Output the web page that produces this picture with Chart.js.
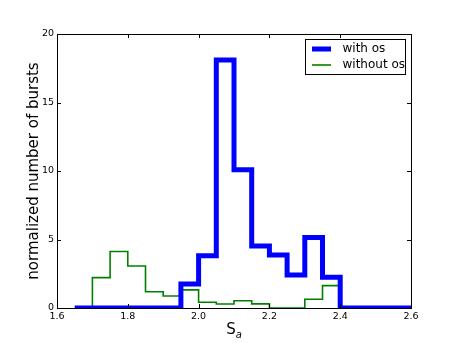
<!DOCTYPE html>
<html>
<head>
<meta charset="utf-8">
<script src="https://cdn.jsdelivr.net/npm/chart.js@4/dist/chart.umd.min.js"></script>
<style>
  html, body { margin: 0; padding: 0; background: #fff; }
  #wrap { width: 457px; height: 343px; }
</style>
</head>
<body>
<div id="wrap"><canvas id="chart"></canvas></div>
<script>
// histogram bins (left edges, width 0.05)
const binEdges = [1.65, 1.70, 1.75, 1.80, 1.85, 1.90, 1.95, 2.00, 2.05, 2.10, 2.15, 2.20, 2.25, 2.30, 2.35];
const binWidth = 0.05;
const withOs = [0, 0, 0, 0, 0, 0, 1.75, 3.82, 18.1, 10.1, 4.53, 3.87, 2.41, 5.14, 2.24];
const withoutOs = [null, 2.22, 4.12, 3.07, 1.19, 0.88, 1.32, 0.42, 0.29, 0.53, 0.30, 0, 0, 0.64, 1.63];
const xTicks = [1.6, 1.8, 2.0, 2.2, 2.4, 2.6];
const yTicks = [0, 5, 10, 15, 20];
const xMin = 1.6, xMax = 2.6;

const FONT = '"DejaVu Sans", sans-serif';

// turn bin values into step points (value applies to the bin to the right of its edge)
function stepPoints(values, tailTo) {
  const pts = [];
  let last = null;
  values.forEach((v, i) => {
    if (v === null) return;
    if (pts.length === 0) pts.push({ x: binEdges[i], y: 0 });
    pts.push({ x: binEdges[i], y: v });
    last = binEdges[i] + binWidth;
  });
  pts.push({ x: last, y: 0 });
  if (tailTo !== undefined) pts.push({ x: tailTo, y: 0 });
  return pts;
}

// frame, inward ticks, axis title and legend drawn like matplotlib
const decorations = {
  id: 'decorations',
  afterDraw(chart) {
    const ctx = chart.ctx;
    const a = chart.chartArea;
    const xs = chart.scales.x, ys = chart.scales.y;
    ctx.save();
    ctx.strokeStyle = '#000';
    ctx.lineWidth = 1;
    ctx.strokeRect(Math.round(a.left) + 0.5, Math.round(a.top) + 0.5,
      Math.round(a.right - a.left), Math.round(a.bottom - a.top));
    ctx.beginPath();
    xTicks.forEach(t => {
      const px = Math.round(xs.getPixelForValue(t)) + 0.5;
      ctx.moveTo(px, a.bottom); ctx.lineTo(px, a.bottom - 4);
      ctx.moveTo(px, a.top); ctx.lineTo(px, a.top + 4);
    });
    yTicks.forEach(t => {
      const py = Math.round(ys.getPixelForValue(t)) + 0.5;
      ctx.moveTo(a.left, py); ctx.lineTo(a.left + 4, py);
      ctx.moveTo(a.right, py); ctx.lineTo(a.right - 4, py);
    });
    ctx.stroke();

    // y title
    ctx.fillStyle = '#000';
    ctx.font = '15px ' + FONT;
    ctx.textAlign = 'center';
    ctx.textBaseline = 'middle';
    ctx.save();
    ctx.translate(34, (a.top + a.bottom) / 2);
    ctx.rotate(-Math.PI / 2);
    ctx.fillText('normalized number of bursts', 0, 0);
    ctx.restore();

    // x title: S with subscript a
    const cx = (a.left + a.right) / 2;
    ctx.textBaseline = 'alphabetic';
    ctx.textAlign = 'left';
    ctx.font = '15px ' + FONT;
    const sw = ctx.measureText('S').width;
    ctx.font = 'italic 10px ' + FONT;
    const aw = ctx.measureText('a').width;
    const x0 = cx - (sw + aw) / 2;
    ctx.font = '15px ' + FONT;
    ctx.fillText('S', x0, 334);
    ctx.font = 'italic 10px ' + FONT;
    ctx.fillText('a', x0 + sw, 338);

    // legend
    const lx = 305.5, ly = 39.5, lw = 100, lh = 35;
    ctx.fillStyle = '#fff';
    ctx.fillRect(lx, ly, lw, lh);
    ctx.strokeStyle = '#000';
    ctx.lineWidth = 1;
    ctx.strokeRect(lx, ly, lw, lh);
    chart.data.datasets.forEach((ds, i) => {
      const y = 49 + i * 16;
      ctx.strokeStyle = ds.borderColor;
      ctx.lineWidth = ds.borderWidth;
      ctx.beginPath();
      ctx.moveTo(312, y); ctx.lineTo(331, y);
      ctx.stroke();
      ctx.fillStyle = '#000';
      ctx.font = '12px ' + FONT;
      ctx.textBaseline = 'middle';
      ctx.fillText(ds.label, 342.5, y);
    });
    ctx.restore();
  }
};

new Chart(document.getElementById('chart'), {
  type: 'line',
  data: {
    datasets: [
      {
        label: 'with os',
        data: stepPoints(withOs, xMax),
        borderColor: '#0000ff',
        borderWidth: 5,
        stepped: 'before',
        pointRadius: 0,
        fill: false,
        borderJoinStyle: 'miter'
      },
      {
        label: 'without os',
        data: stepPoints(withoutOs),
        borderColor: '#008000',
        borderWidth: 1.6,
        stepped: 'before',
        pointRadius: 0,
        fill: false,
        borderJoinStyle: 'miter'
      }
    ]
  },
  options: {
    responsive: true,
    maintainAspectRatio: false,
    animation: false,
    events: [],
    layout: { padding: { top: 34, right: 46, left: 0, bottom: 0 } },
    plugins: {
      legend: { display: false },
      tooltip: { enabled: false }
    },
    scales: {
      x: {
        type: 'linear',
        min: xMin,
        max: xMax,
        afterFit: s => { s.height = 35; },
        afterBuildTicks: s => { s.ticks = xTicks.map(v => ({ value: v })); },
        grid: { drawOnChartArea: false, drawTicks: false },
        border: { display: false },
        ticks: {
          color: '#000',
          padding: 3,
          maxRotation: 0,
          font: { family: FONT, size: 9.5 },
          callback: v => v.toFixed(1)
        }
      },
      y: {
        min: 0,
        max: 20,
        afterFit: s => { s.width = 57; },
        afterBuildTicks: s => { s.ticks = yTicks.map(v => ({ value: v })); },
        grid: { drawOnChartArea: false, drawTicks: false },
        border: { display: false },
        ticks: {
          color: '#000',
          padding: 3,
          font: { family: FONT, size: 9.5 },
          callback: v => String(v)
        }
      }
    }
  },
  plugins: [decorations]
});
</script>
</body>
</html>
